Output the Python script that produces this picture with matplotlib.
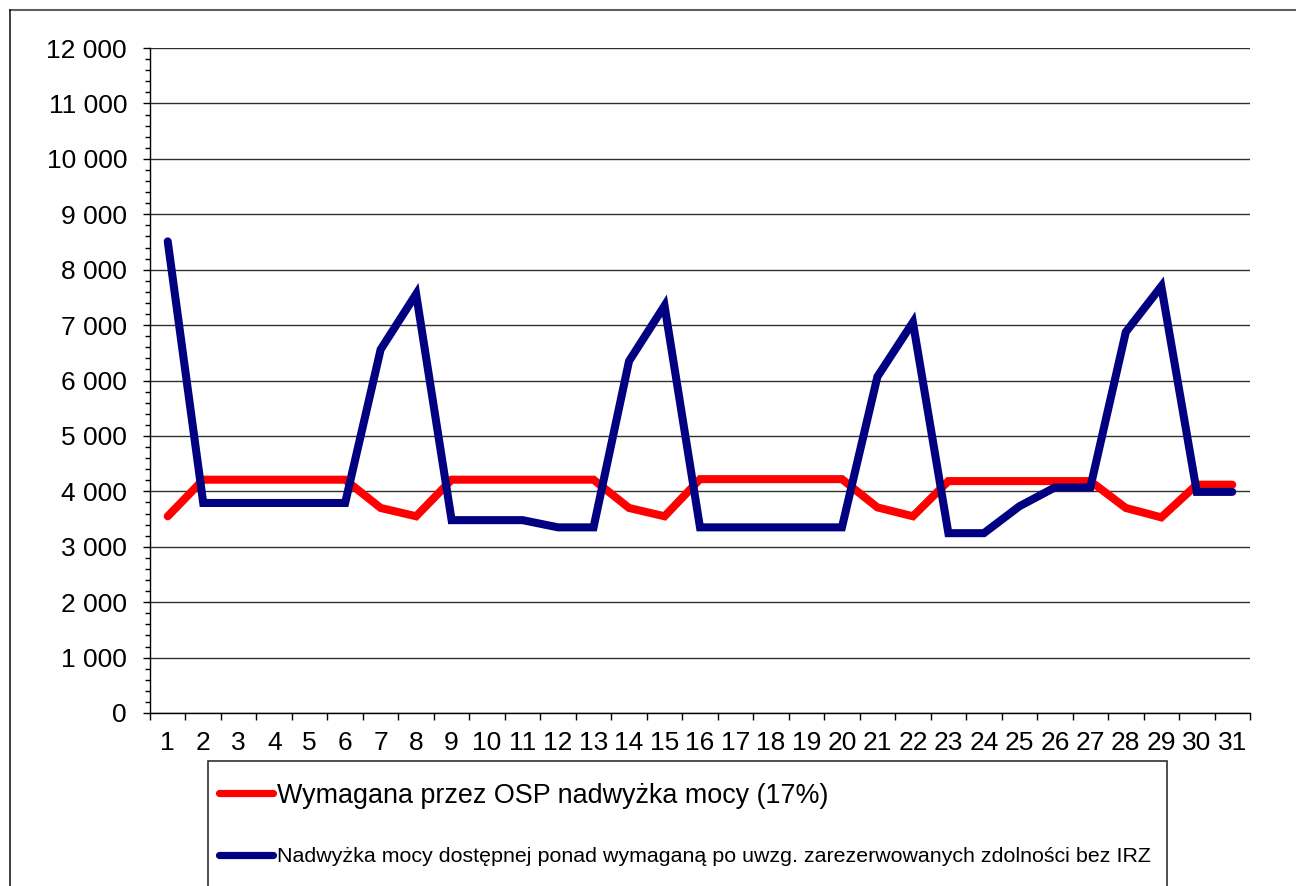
#!/usr/bin/env python3
"""Daily power surplus vs. TSO required surplus (line chart, Excel-like look)."""

from __future__ import annotations

import matplotlib

matplotlib.use("Agg")
import matplotlib.pyplot as plt
from matplotlib.lines import Line2D
from matplotlib.patches import Rectangle
from matplotlib.ticker import FixedLocator, FuncFormatter, MultipleLocator

days = list(range(1, 32))

required_surplus = [
    3550, 4210, 4210, 4210, 4210, 4210, 3700, 3550, 4210, 4210,
    4210, 4210, 4210, 3700, 3550, 4220, 4220, 4220, 4220, 4220,
    3710, 3550, 4185, 4185, 4185, 4185, 4185, 3700, 3530, 4120,
    4120,
]

available_surplus = [
    8510, 3790, 3790, 3790, 3790, 3790, 6560, 7560, 3480, 3480,
    3480, 3350, 3350, 6350, 7350, 3350, 3350, 3350, 3350, 3350,
    6070, 7050, 3245, 3245, 3730, 4070, 4070, 6875, 7700, 3990,
    3990,
]

label_required = "Wymagana przez OSP nadwyżka mocy (17%)"
label_available = (
    "Nadwyżka mocy dostępnej ponad wymaganą po uwzg. "
    "zarezerwowanych zdolności bez IRZ"
)

RED = "#ff0000"
NAVY = "#000080"
W, H = 1296, 886

plt.rcParams["font.family"] = ["Liberation Sans", "DejaVu Sans"]


def fx(px: float) -> float:
    return px / W


def fy(py: float) -> float:
    return 1.0 - py / H


def thousands(v: float, _pos=None) -> str:
    return f"{int(round(v)):,}".replace(",", " ")


def main() -> None:
    fig = plt.figure(figsize=(W / 100, H / 100), dpi=100)
    ax = fig.add_axes([fx(150), fy(713), fx(1250) - fx(150), fy(48) - fy(713)])

    ax.plot(days, required_surplus, color=RED, lw=5.8,
            solid_capstyle="round", solid_joinstyle="miter", zorder=3)
    ax.plot(days, available_surplus, color=NAVY, lw=5.8,
            solid_capstyle="round", solid_joinstyle="miter", zorder=4)

    ax.set_xlim(0.5, 31.5)
    ax.set_ylim(0, 12000)

    # y axis: majors every 1000 with gridlines, minors every 200
    ax.yaxis.set_major_locator(MultipleLocator(1000))
    ax.yaxis.set_minor_locator(MultipleLocator(200))
    ax.yaxis.set_major_formatter(FuncFormatter(thousands))
    ax.grid(axis="y", which="major", color="#303030", lw=1.0, zorder=1)
    ax.tick_params(axis="y", which="major", length=5, width=1, pad=11.5,
                   labelsize=19, direction="out")
    ax.tick_params(axis="y", which="minor", length=3.5, width=1, direction="out")

    # x axis: tick marks between categories, labels centred on categories
    ax.xaxis.set_major_locator(FixedLocator([d - 0.5 for d in days] + [31.5]))
    ax.xaxis.set_major_formatter(FuncFormatter(lambda v, p: ""))
    ax.xaxis.set_minor_locator(FixedLocator(days))
    ax.xaxis.set_minor_formatter(FuncFormatter(lambda v, p: f"{int(round(v))}"))
    ax.tick_params(axis="x", which="major", length=5, width=1, direction="out")
    ax.tick_params(axis="x", which="minor", length=0, pad=13, labelsize=19)

    for side in ("top", "right"):
        ax.spines[side].set_visible(False)
    for side in ("left", "bottom"):
        ax.spines[side].set_color("black")
        ax.spines[side].set_linewidth(1.0)

    # outer chart border (only top and left are inside the image)
    fig.add_artist(Line2D([fx(10), 1.0], [fy(10), fy(10)], color="#606060",
                          lw=1.5, transform=fig.transFigure))
    fig.add_artist(Line2D([fx(10), fx(10)], [fy(10), 0.0], color="#202020",
                          lw=1.2, transform=fig.transFigure))

    # legend box, cut off by the bottom edge
    fig.add_artist(Rectangle((fx(208), -0.05), fx(1167) - fx(208), fy(761) + 0.05,
                             fill=False, edgecolor="#303030", lw=1.2,
                             transform=fig.transFigure))
    entries = [
        (RED, label_required, 793, 19.4),
        (NAVY, label_available, 855, 15.4),
    ]
    for color, text, ypix, size in entries:
        fig.add_artist(Line2D([fx(219), fx(273)], [fy(ypix), fy(ypix)], color=color,
                              lw=5.2, solid_capstyle="round",
                              transform=fig.transFigure))
        fig.text(fx(277), fy(ypix), text, fontsize=size,
                 ha="left", va="center_baseline")

    fig.savefig("out.png", dpi=100, facecolor="white")
    plt.close(fig)


if __name__ == "__main__":
    main()
